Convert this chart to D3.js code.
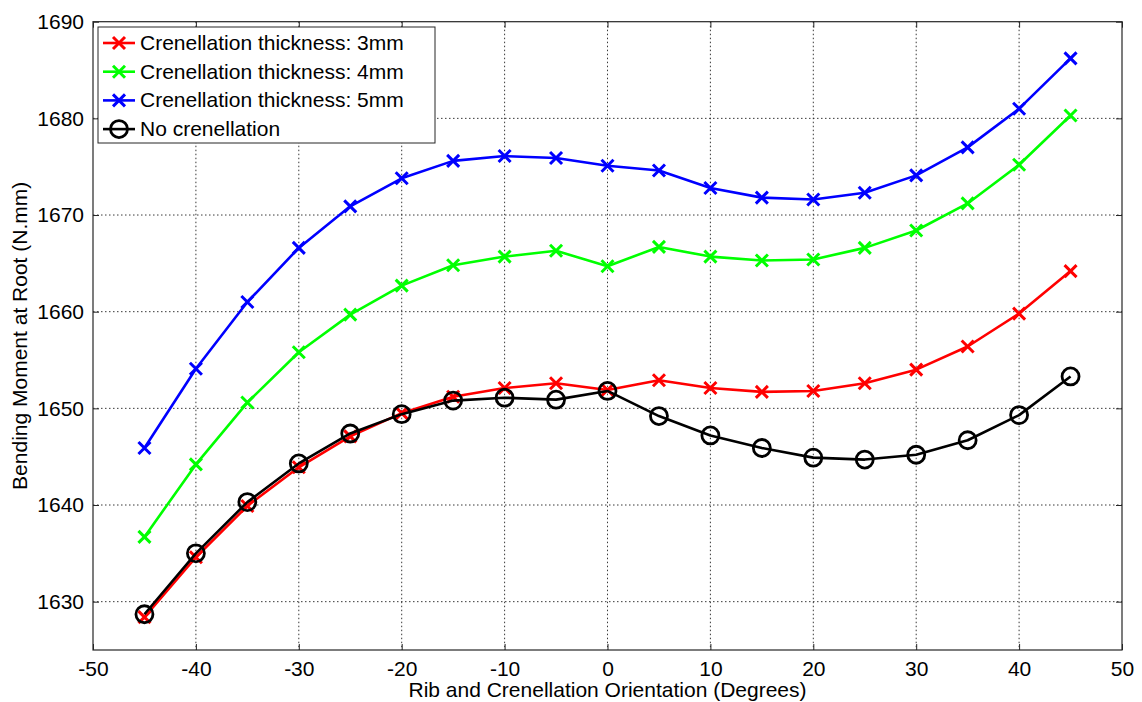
<!DOCTYPE html>
<html><head><meta charset="utf-8">
<script src="https://cdn.jsdelivr.net/npm/d3@7"></script>
<style>body{margin:0;background:#fff}svg{display:block}text{font-family:"Liberation Sans",Arial,sans-serif}</style>
</head><body><svg id="c" width="1142" height="702"></svg>
<script>
const angles = [-45,-40,-35,-30,-25,-20,-15,-10,-5,0,5,10,15,20,25,30,35,40,45];
const thick3 = [1628.4,1634.6,1639.9,1643.9,1647.1,1649.5,1651.2,1652.1,1652.6,1651.9,1652.9,1652.1,1651.7,1651.8,1652.6,1654.0,1656.4,1659.8,1664.2];
const thick4 = [1636.7,1644.2,1650.6,1655.8,1659.7,1662.7,1664.8,1665.7,1666.3,1664.7,1666.7,1665.7,1665.3,1665.4,1666.6,1668.4,1671.2,1675.2,1680.3];
const thick5 = [1645.9,1654.1,1661.0,1666.6,1670.9,1673.8,1675.6,1676.1,1675.9,1675.1,1674.6,1672.8,1671.8,1671.6,1672.3,1674.1,1677.0,1681.0,1686.2];
const noCren = [1628.7,1635.0,1640.3,1644.3,1647.4,1649.4,1650.8,1651.1,1650.9,1651.8,1649.2,1647.2,1645.9,1644.9,1644.7,1645.2,1646.7,1649.3,1653.3];
const seriesNames = ["Crenellation thickness: 3mm","Crenellation thickness: 4mm","Crenellation thickness: 5mm","No crenellation"];
const xTicks = [-50,-40,-30,-20,-10,0,10,20,30,40,50];
const yTicks = [1630,1640,1650,1660,1670,1680,1690];
const xLabel = "Rib and Crenellation Orientation (Degrees)";
const yLabel = "Bending Moment at Root (N.mm)";

const series = [
  {name:seriesNames[0], vals:thick3, color:"#ff0000", marker:"x"},
  {name:seriesNames[1], vals:thick4, color:"#00ff00", marker:"x"},
  {name:seriesNames[2], vals:thick5, color:"#0000ff", marker:"x"},
  {name:seriesNames[3], vals:noCren, color:"#000000", marker:"o"}
];

const FS = 21;
const L=93, R=1122, T=21.7, B=650;
const svg = d3.select("#c");
const x = d3.scaleLinear().domain([-50,50]).range([L,R]);
const y = d3.scaleLinear().domain([1625,1690]).range([B,T]);

// grid
const g = svg.append("g");
g.selectAll(".gx").data(xTicks.slice(1,-1)).join("line")
  .attr("x1",d=>x(d)).attr("x2",d=>x(d)).attr("y1",T).attr("y2",B)
  .attr("stroke","#222").attr("stroke-width",0.9).attr("stroke-dasharray","1.5,2.5");
g.selectAll(".gy").data(yTicks.slice(0,-1)).join("line")
  .attr("y1",d=>y(d)).attr("y2",d=>y(d)).attr("x1",L).attr("x2",R)
  .attr("stroke","#222").attr("stroke-width",0.9).attr("stroke-dasharray","1.5,2.5");

// axes
const fmt = d=>String(d);
const ax = svg.append("g").attr("transform",`translate(0,${B})`)
  .call(d3.axisBottom(x).tickValues(xTicks).tickSize(-6).tickPadding(11).tickFormat(fmt));
const axT = svg.append("g").attr("transform",`translate(0,${T})`)
  .call(d3.axisTop(x).tickValues(xTicks).tickSize(-6).tickFormat(""));
const ay = svg.append("g").attr("transform",`translate(${L},0)`)
  .call(d3.axisLeft(y).tickValues(yTicks).tickSize(-6).tickPadding(9).tickFormat(fmt));
const ayR = svg.append("g").attr("transform",`translate(${R},0)`)
  .call(d3.axisRight(y).tickValues(yTicks).tickSize(-6).tickFormat(""));
[ax,axT,ay,ayR].forEach(a=>{
  a.select(".domain").remove();
  a.selectAll(".tick line").attr("stroke","#262626").attr("stroke-width",1);
  a.selectAll("text").attr("font-size",FS).attr("fill","#000").attr("font-family",null);
});
svg.append("rect").attr("x",L).attr("y",T).attr("width",R-L).attr("height",B-T)
  .attr("fill","none").attr("stroke","#262626").attr("stroke-width",1.2);

// lines
const line = d3.line().x((d,i)=>x(angles[i])).y(d=>y(d));
function drawMarker(sel, type, color, cx, cy){
  if(type==="x"){
    const s=6;
    sel.append("path").attr("d",`M${cx-s},${cy-s}L${cx+s},${cy+s}M${cx-s},${cy+s}L${cx+s},${cy-s}`)
      .attr("stroke",color).attr("stroke-width",3).attr("fill","none");
  } else {
    sel.append("circle").attr("cx",cx).attr("cy",cy).attr("r",8.5)
      .attr("stroke",color).attr("stroke-width",2.8).attr("fill","none");
  }
}
series.forEach(s=>{
  const gs = svg.append("g");
  gs.append("path").attr("d",line(s.vals)).attr("fill","none")
    .attr("stroke",s.color).attr("stroke-width",2.6).attr("stroke-linejoin","round");
  s.vals.forEach((v,i)=>drawMarker(gs,s.marker,s.color,x(angles[i]),y(v)));
});

// legend
const lg = svg.append("g");
lg.append("rect").attr("x",98).attr("y",27).attr("width",337).attr("height",116)
  .attr("fill","#fff").attr("stroke","#262626").attr("stroke-width",1);
series.forEach((s,i)=>{
  const cy = 43 + i*28.7;
  lg.append("line").attr("x1",103).attr("x2",135).attr("y1",cy).attr("y2",cy)
    .attr("stroke",s.color).attr("stroke-width",2.6);
  drawMarker(lg,s.marker,s.color,119,cy);
  lg.append("text").attr("x",140).attr("y",cy+7).attr("font-size",FS).text(s.name);
});

// labels
svg.append("text").attr("x",(L+R)/2).attr("y",697).attr("text-anchor","middle")
  .attr("font-size",FS).text(xLabel);
svg.append("text").attr("transform",`translate(27,${(T+B)/2}) rotate(-90)`)
  .attr("text-anchor","middle").attr("font-size",FS).text(yLabel);
</script></body></html>
